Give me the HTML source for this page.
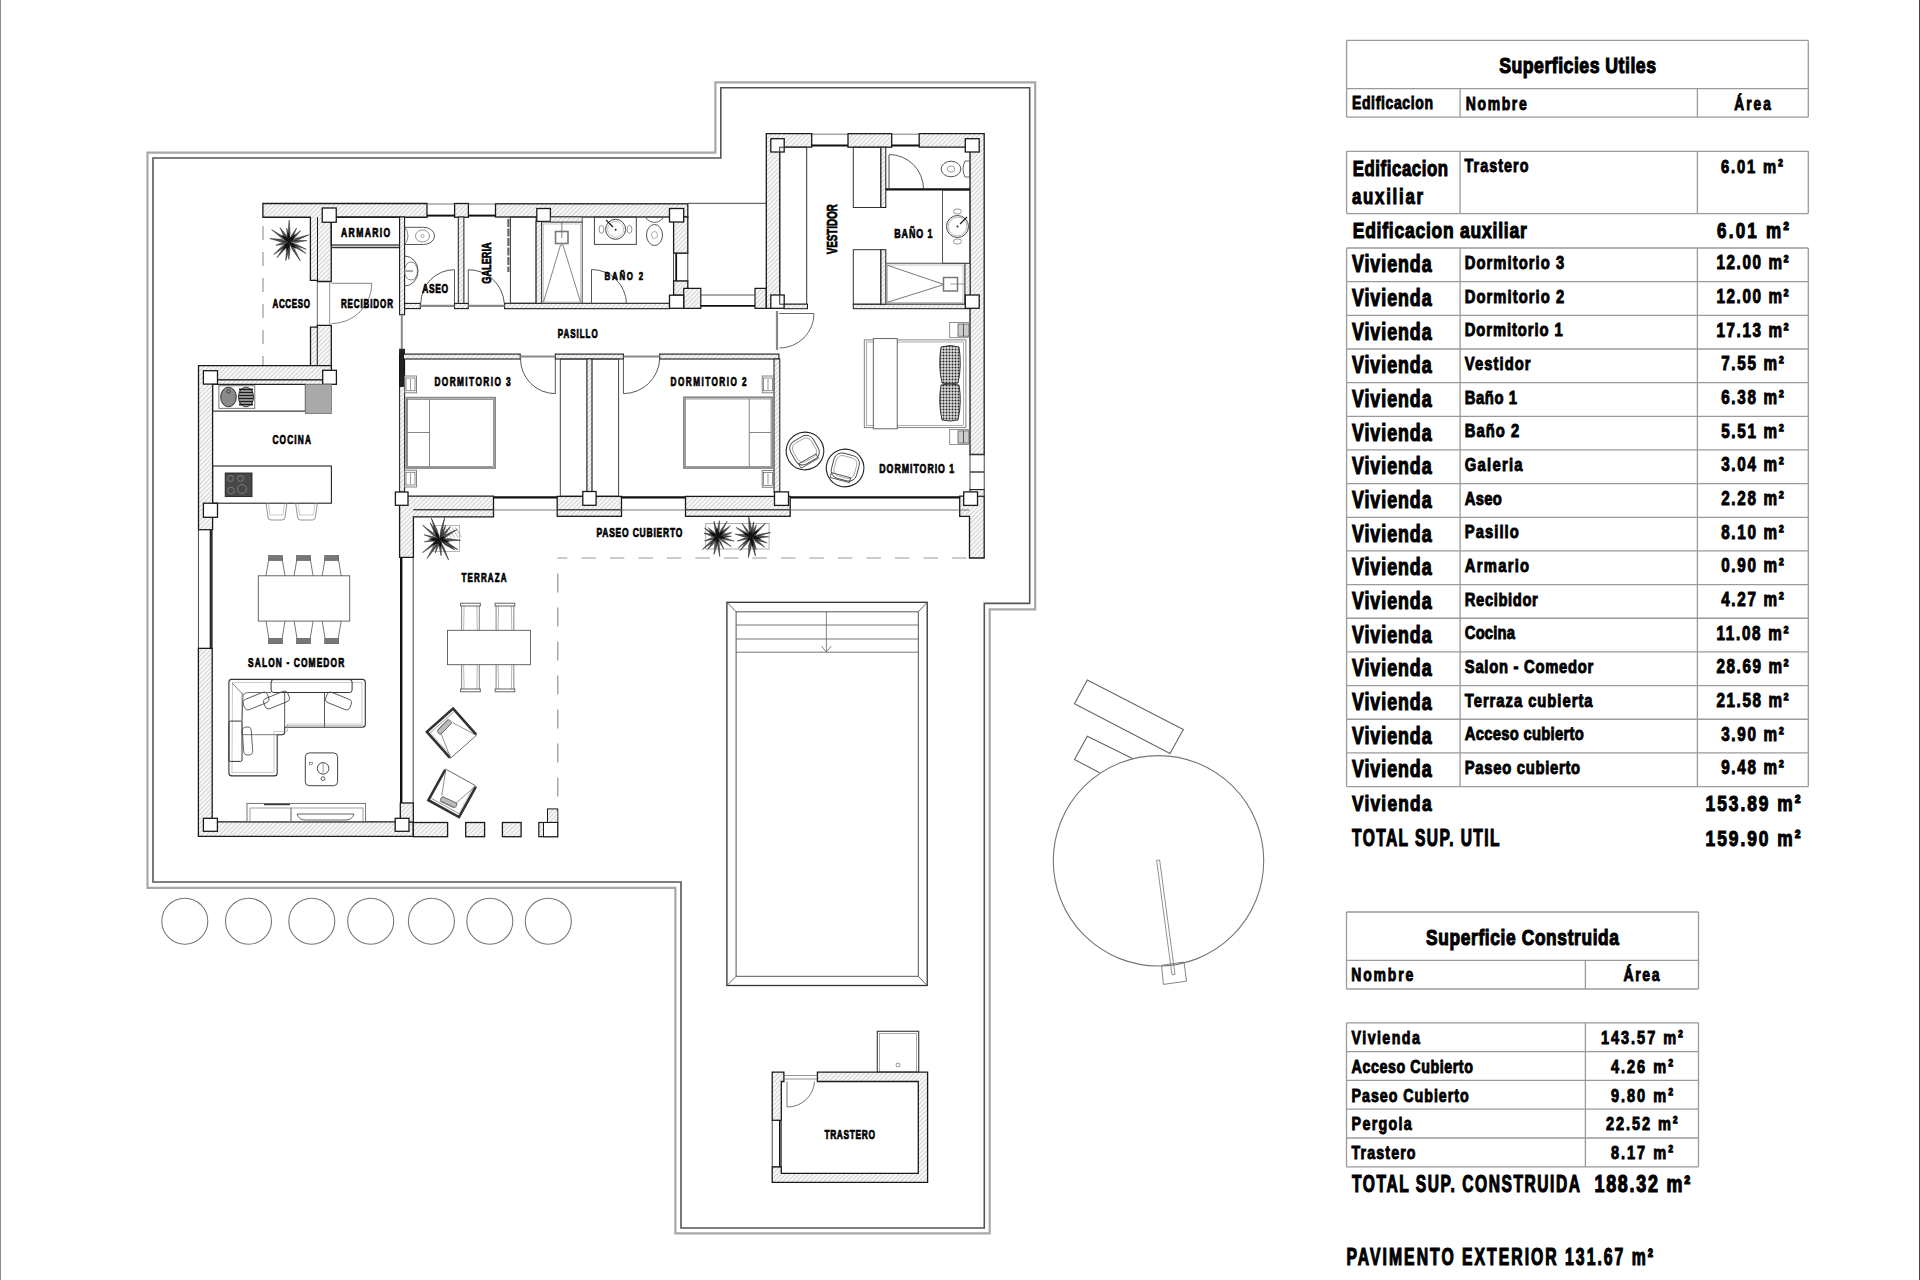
<!DOCTYPE html>
<html><head><meta charset="utf-8"><style>
html,body{margin:0;padding:0;background:#fff;width:1920px;height:1280px;overflow:hidden}
svg{display:block;font-family:"Liberation Sans",sans-serif;font-weight:bold}
</style></head><body>
<svg width="1920" height="1280" viewBox="0 0 1920 1280">
<defs><pattern id="h" patternUnits="userSpaceOnUse" width="3.2" height="3.2" patternTransform="rotate(45)"><rect width="3.2" height="3.2" fill="#f6f6f6"/><line x1="0" y1="0" x2="0" y2="3.2" stroke="#9a9a9a" stroke-width="0.7"/></pattern></defs>
<rect x="0" y="0" width="1920" height="1280" fill="#fff"/>
<line x1="0.5" y1="0" x2="0.5" y2="1280" stroke="#8a8a8a" stroke-width="1"/>
<line x1="1919.5" y1="0" x2="1919.5" y2="1280" stroke="#444" stroke-width="1"/>
<polygon points="147.5,152.6 715.4,152.6 715.4,82.3 1035.2,82.3 1035.2,609.4 989.7,609.4 989.7,1233.3 675.4,1233.3 675.4,887.8 147.5,887.8" fill="none" stroke="#a8a8a8" stroke-width="2.2" stroke-linejoin="miter"/>
<polygon points="153,158 720.8,158 720.8,87.8 1029.7,87.8 1029.7,603.4 984.3,603.4 984.3,1228 681,1228 681,882 153,882" fill="none" stroke="#555" stroke-width="1.6" stroke-linejoin="miter"/>
<circle cx="184.8" cy="921.2" r="23" fill="none" stroke="#777" stroke-width="1.1"/>
<circle cx="248.5" cy="921.2" r="23" fill="none" stroke="#777" stroke-width="1.1"/>
<circle cx="311.8" cy="921.2" r="23" fill="none" stroke="#777" stroke-width="1.1"/>
<circle cx="370.7" cy="921.2" r="23" fill="none" stroke="#777" stroke-width="1.1"/>
<circle cx="431.4" cy="921.2" r="23" fill="none" stroke="#777" stroke-width="1.1"/>
<circle cx="489.8" cy="921.2" r="23" fill="none" stroke="#777" stroke-width="1.1"/>
<circle cx="548.3" cy="921.2" r="23" fill="none" stroke="#777" stroke-width="1.1"/>
<rect x="726.9" y="602.3" width="200.3" height="383.2" fill="none" stroke="#333" stroke-width="1.3"/>
<rect x="736.1" y="611.8" width="182.2" height="364.5" fill="none" stroke="#555" stroke-width="1"/>
<line x1="726.9" y1="602.3" x2="736.1" y2="611.8" stroke="#555" stroke-width="0.9"/>
<line x1="927.2" y1="602.3" x2="918.3" y2="611.8" stroke="#555" stroke-width="0.9"/>
<line x1="726.9" y1="985.5" x2="736.1" y2="976.3" stroke="#555" stroke-width="0.9"/>
<line x1="927.2" y1="985.5" x2="918.3" y2="976.3" stroke="#555" stroke-width="0.9"/>
<line x1="736.1" y1="625" x2="918.3" y2="625" stroke="#666" stroke-width="0.9"/>
<line x1="736.1" y1="639" x2="918.3" y2="639" stroke="#666" stroke-width="0.9"/>
<line x1="736.1" y1="652.2" x2="918.3" y2="652.2" stroke="#666" stroke-width="0.9"/>
<line x1="826.4" y1="612" x2="826.4" y2="652" stroke="#666" stroke-width="0.8"/>
<path d="M821.5,646 L826.4,652 L831.3,646" fill="none" stroke="#666" stroke-width="0.8"/>
<polygon points="1087.3,680 1183.3,729.5 1170,753.4 1074.5,703.8" fill="none" stroke="#666" stroke-width="1.1" stroke-linejoin="miter"/>
<polyline points="1133,758.8 1087.3,736.2 1074.5,759.5 1099.7,772.8" fill="none" stroke="#666" stroke-width="1.1" stroke-linejoin="miter"/>
<circle cx="1158.5" cy="860.8" r="105.2" fill="none" stroke="#777" stroke-width="1.1"/>
<polygon points="1156.6,860.4 1159.6,860 1175,974.4 1172,974.8" fill="none" stroke="#777" stroke-width="0.8" stroke-linejoin="miter"/>
<polygon points="1161.6,965.3 1184,962 1186.5,981.2 1163.4,984.4" fill="none" stroke="#777" stroke-width="0.9" stroke-linejoin="miter"/>
<rect x="877.3" y="1031.3" width="41.4" height="40.9" fill="none" stroke="#444" stroke-width="1.2"/>
<rect x="879.6" y="1033.5" width="36.9" height="38.7" fill="none" stroke="#888" stroke-width="0.7"/>
<circle cx="898" cy="1065" r="2" fill="none" stroke="#666" stroke-width="0.7"/>
<path d="M772.2,1072.2 H783.9 V1081.5 H781.3 V1120.3 H772.2 Z" fill="url(#h)" stroke="#1a1a1a" stroke-width="1.3"/>
<path d="M817.4,1072.2 H927.6 V1182.3 H772.2 V1166.8 H781.3 V1173.4 H918.3 V1081.5 H817.4 Z" fill="url(#h)" stroke="#1a1a1a" stroke-width="1.3"/>
<rect x="772.2" y="1120.3" width="9.1" height="46.5" fill="none" stroke="#333" stroke-width="0.9"/>
<line x1="779.8" y1="1120.3" x2="779.8" y2="1166.8" stroke="#111" stroke-width="1.6"/>
<line x1="783.9" y1="1075.5" x2="817.4" y2="1075.5" stroke="#666" stroke-width="0.7"/>
<line x1="783.9" y1="1079" x2="817.4" y2="1079" stroke="#666" stroke-width="0.7"/>
<line x1="787" y1="1081.5" x2="787" y2="1107" stroke="#555" stroke-width="0.8"/>
<path d="M787,1107 A 27 27 0 0 0 814.5,1081.5" fill="none" stroke="#555" stroke-width="0.8"/>
<text transform="translate(824.4,1138.9) scale(0.67,1)" font-size="12.5" textLength="75.37" lengthAdjust="spacing" fill="#000" stroke="#000" stroke-width="0.75">TRASTERO</text>
<path d="M262.9,203.5 H427 V217.25 H331.25 V281.5 H317.5 V280.4 H310.4 V217.25 H262.9 Z" fill="url(#h)" stroke="#1a1a1a" stroke-width="1.3"/>
<line x1="317.5" y1="217.25" x2="317.5" y2="280.4" stroke="#1a1a1a" stroke-width="1"/>
<rect x="454.6" y="203.5" width="13.8" height="13.75" fill="url(#h)" stroke="#1a1a1a" stroke-width="1.3"/>
<rect x="495.5" y="203.8" width="192.3" height="13.2" fill="url(#h)" stroke="#1a1a1a" stroke-width="1.3"/>
<line x1="427" y1="204" x2="454.6" y2="204" stroke="#555" stroke-width="0.8"/>
<line x1="427" y1="215.6" x2="454.6" y2="215.6" stroke="#111" stroke-width="2"/>
<line x1="468.4" y1="204" x2="495.5" y2="204" stroke="#555" stroke-width="0.8"/>
<line x1="468.4" y1="215.6" x2="495.5" y2="215.6" stroke="#111" stroke-width="2"/>
<path d="M310.5,327.2 H317.3 V325.3 H331.3 V365.6 H310.5 Z" fill="url(#h)" stroke="#1a1a1a" stroke-width="1.3"/>
<line x1="317.3" y1="325.3" x2="317.3" y2="365.6" stroke="#1a1a1a" stroke-width="1"/>
<line x1="317.3" y1="281.5" x2="317.3" y2="325.3" stroke="#444" stroke-width="0.8"/>
<line x1="329.7" y1="281.5" x2="329.7" y2="325.3" stroke="#777" stroke-width="0.8"/>
<line x1="331.5" y1="283.3" x2="371.8" y2="283.3" stroke="#666" stroke-width="0.8"/>
<path d="M371.8,283.3 A 40.3 40.3 0 0 1 331.5,323.6" fill="none" stroke="#666" stroke-width="0.8"/>
<line x1="263" y1="217" x2="263" y2="365.6" stroke="#999" stroke-width="1.2" stroke-dasharray="14,12" stroke-dashoffset="-9"/>
<rect x="331.25" y="217" width="68.35" height="28" fill="none" stroke="#222" stroke-width="1.2"/>
<line x1="331.25" y1="247.5" x2="399.6" y2="247.5" stroke="#333" stroke-width="1.6"/>
<rect x="399.6" y="217" width="5" height="97.7" fill="url(#h)" stroke="#1a1a1a" stroke-width="1.1"/>
<line x1="401.8" y1="314.7" x2="401.8" y2="349" stroke="#888" stroke-width="2"/>
<rect x="404.6" y="303.4" width="15.7" height="5.2" fill="url(#h)" stroke="#1a1a1a" stroke-width="1.1"/>
<rect x="454.5" y="303.4" width="13.8" height="5.2" fill="url(#h)" stroke="#1a1a1a" stroke-width="1.1"/>
<rect x="504.6" y="303.3" width="164.9" height="5.4" fill="url(#h)" stroke="#1a1a1a" stroke-width="1.1"/>
<line x1="420.3" y1="305.8" x2="454.5" y2="305.8" stroke="#888" stroke-width="2.2"/>
<line x1="468.3" y1="305.8" x2="504.6" y2="305.8" stroke="#888" stroke-width="2.2"/>
<rect x="458.3" y="217" width="5.6" height="86.4" fill="url(#h)" stroke="#1a1a1a" stroke-width="1"/>
<rect x="510.4" y="217" width="25.7" height="86.3" fill="none" stroke="#333" stroke-width="1"/>
<line x1="508.4" y1="219" x2="508.4" y2="272" stroke="#666" stroke-width="2.2" stroke-dasharray="8,1.5"/>
<rect x="536.1" y="221.4" width="5.5" height="81.9" fill="url(#h)" stroke="#1a1a1a" stroke-width="1"/>
<rect x="673.6" y="217" width="14.2" height="36.2" fill="url(#h)" stroke="#1a1a1a" stroke-width="1.3"/>
<rect x="673.6" y="253.2" width="14.2" height="27.8" fill="none" stroke="#333" stroke-width="0.9"/>
<line x1="676.2" y1="253.2" x2="676.2" y2="281" stroke="#111" stroke-width="1.8"/>
<rect x="673.6" y="281" width="14.2" height="14.2" fill="url(#h)" stroke="#1a1a1a" stroke-width="1.3"/>
<path d="M683.7,288.3 H700.8 V308.3 H683.7 Z" fill="url(#h)" stroke="#1a1a1a" stroke-width="1.2"/>
<path d="M755,288.3 H766.3 V308.3 H755 Z" fill="url(#h)" stroke="#1a1a1a" stroke-width="1.2"/>
<line x1="687.8" y1="203.3" x2="766.3" y2="203.3" stroke="#444" stroke-width="1"/>
<line x1="700.8" y1="295" x2="755" y2="295" stroke="#444" stroke-width="0.9"/>
<line x1="700.8" y1="305.8" x2="755" y2="305.8" stroke="#111" stroke-width="1.8"/>
<rect x="669.5" y="295.2" width="14.2" height="13.1" fill="#fff" stroke="#1a1a1a" stroke-width="1.3"/>
<rect x="322.25" y="208" width="14" height="14.25" fill="#fff" stroke="#1a1a1a" stroke-width="1.3"/>
<rect x="536.8" y="208.5" width="13.6" height="12.9" fill="#fff" stroke="#1a1a1a" stroke-width="1.3"/>
<rect x="669.5" y="208.5" width="14.2" height="13.5" fill="#fff" stroke="#1a1a1a" stroke-width="1.3"/>
<path d="M766.3,133.7 H811.7 V147.2 H779.7 V308.3 H766.3 Z" fill="url(#h)" stroke="#1a1a1a" stroke-width="1.3"/>
<rect x="848" y="133.7" width="43.7" height="13.5" fill="url(#h)" stroke="#1a1a1a" stroke-width="1.3"/>
<path d="M919.2,133.7 H984.2 V454.5 H970 V147.2 H919.2 Z" fill="url(#h)" stroke="#1a1a1a" stroke-width="1.3"/>
<line x1="811.7" y1="134.2" x2="848" y2="134.2" stroke="#555" stroke-width="0.8"/>
<line x1="811.7" y1="145.5" x2="848" y2="145.5" stroke="#111" stroke-width="2"/>
<line x1="891.7" y1="134.2" x2="919.2" y2="134.2" stroke="#555" stroke-width="0.8"/>
<line x1="891.7" y1="145.5" x2="919.2" y2="145.5" stroke="#111" stroke-width="2"/>
<rect x="970" y="454.5" width="14.2" height="35.1" fill="none" stroke="#333" stroke-width="0.9"/>
<line x1="970" y1="472" x2="984.2" y2="472" stroke="#333" stroke-width="1.4"/>
<rect x="770.8" y="138.7" width="13.4" height="13.3" fill="#fff" stroke="#1a1a1a" stroke-width="1.3"/>
<rect x="965.3" y="138.7" width="13.9" height="13.3" fill="#fff" stroke="#1a1a1a" stroke-width="1.3"/>
<rect x="770.8" y="295" width="13.4" height="13.3" fill="#fff" stroke="#1a1a1a" stroke-width="1.3"/>
<rect x="779.7" y="147.2" width="27" height="157" fill="none" stroke="#333" stroke-width="1"/>
<rect x="784.2" y="304.2" width="23.3" height="4.5" fill="url(#h)" stroke="#1a1a1a" stroke-width="1"/>
<rect x="853.3" y="304.2" width="116.7" height="4.5" fill="url(#h)" stroke="#1a1a1a" stroke-width="1"/>
<rect x="880.8" y="147.2" width="5" height="60.3" fill="url(#h)" stroke="#1a1a1a" stroke-width="1"/>
<rect x="880.8" y="249.7" width="5" height="54.5" fill="url(#h)" stroke="#1a1a1a" stroke-width="1"/>
<rect x="853.3" y="147.2" width="27.5" height="60.3" fill="none" stroke="#333" stroke-width="1"/>
<rect x="853.3" y="249.7" width="27.5" height="54.5" fill="none" stroke="#333" stroke-width="1"/>
<line x1="885.8" y1="189.3" x2="970" y2="189.3" stroke="#111" stroke-width="2.2"/>
<line x1="889" y1="155" x2="889" y2="189.3" stroke="#444" stroke-width="1"/>
<path d="M889,154.5 A 34.5 34.5 0 0 1 923.5,189" fill="none" stroke="#444" stroke-width="0.9"/>
<rect x="885.8" y="263.3" width="79.2" height="40.9" fill="none" stroke="#666" stroke-width="1.1"/>
<rect x="887.5" y="265" width="75.5" height="37.5" fill="none" stroke="#999" stroke-width="0.6"/>
<polyline points="887.5,265.3 944,284.5 887.5,302.3" fill="none" stroke="#555" stroke-width="0.8" stroke-linejoin="miter"/>
<rect x="943.5" y="277.5" width="14" height="13.5" fill="none" stroke="#777" stroke-width="1.5"/>
<line x1="950.5" y1="284" x2="964" y2="284" stroke="#777" stroke-width="0.7"/>
<rect x="965" y="263.3" width="5" height="40.9" fill="url(#h)" stroke="#1a1a1a" stroke-width="0.8"/>
<rect x="942.5" y="190.3" width="27.5" height="73" fill="none" stroke="#444" stroke-width="0.9"/>
<circle cx="957.5" cy="226.5" r="11" fill="none" stroke="#444" stroke-width="1"/>
<circle cx="957.5" cy="226.5" r="9.3" fill="none" stroke="#888" stroke-width="0.6"/>
<circle cx="957.5" cy="226.5" r="1" fill="#222"/>
<line x1="960" y1="224" x2="967" y2="217" stroke="#222" stroke-width="1.2"/>
<ellipse cx="957.5" cy="211.5" rx="4" ry="2.6" fill="none" stroke="#777" stroke-width="0.8"/>
<ellipse cx="957.5" cy="241.5" rx="4" ry="2.6" fill="none" stroke="#777" stroke-width="0.8"/>
<ellipse cx="951" cy="169" rx="9.8" ry="7.8" fill="none" stroke="#555" stroke-width="1"/>
<ellipse cx="951" cy="169" rx="3.8" ry="3" fill="none" stroke="#777" stroke-width="0.7"/>
<path d="M965,161 Q961,169 965,177 H970 V161 Z" fill="none" stroke="#555" stroke-width="0.9"/>
<rect x="541.6" y="222" width="40.6" height="81.3" fill="none" stroke="#444" stroke-width="1"/>
<rect x="543.5" y="224" width="37" height="78" fill="none" stroke="#aaa" stroke-width="0.6"/>
<rect x="555.5" y="231.5" width="12.5" height="12" fill="none" stroke="#777" stroke-width="1.6"/>
<line x1="561.8" y1="222" x2="561.8" y2="238" stroke="#666" stroke-width="0.8"/>
<polyline points="543.5,302 560.5,245 563,245 580.5,302" fill="none" stroke="#666" stroke-width="0.8" stroke-linejoin="miter"/>
<rect x="550.4" y="217" width="31.8" height="5" fill="url(#h)" stroke="#444" stroke-width="0.9"/>
<rect x="594.4" y="217" width="41.9" height="27.4" fill="none" stroke="#444" stroke-width="1"/>
<circle cx="615.6" cy="229.3" r="10" fill="none" stroke="#444" stroke-width="1"/>
<circle cx="615.6" cy="229.3" r="8" fill="none" stroke="#999" stroke-width="0.6"/>
<circle cx="615.6" cy="229.8" r="1" fill="#222"/>
<line x1="606" y1="220" x2="613" y2="227" stroke="#222" stroke-width="1.2"/>
<ellipse cx="601.5" cy="229.3" rx="2.4" ry="4" fill="none" stroke="#777" stroke-width="0.8"/>
<ellipse cx="629.5" cy="229.3" rx="2.4" ry="4" fill="none" stroke="#777" stroke-width="0.8"/>
<ellipse cx="654.5" cy="235" rx="8" ry="10.5" fill="none" stroke="#555" stroke-width="1"/>
<ellipse cx="654.5" cy="235" rx="3" ry="3.5" fill="none" stroke="#888" stroke-width="0.7"/>
<path d="M646.5,219 Q654.5,226 662.5,219 V217 H646.5 Z" fill="none" stroke="#555" stroke-width="0.9"/>
<line x1="591.5" y1="269.5" x2="591.5" y2="303.3" stroke="#444" stroke-width="0.9"/>
<path d="M591.5,269.5 A 35 35 0 0 1 626.5,303.3" fill="none" stroke="#444" stroke-width="0.9"/>
<path d="M404.6,227.3 H423.5 A 11 8.6 0 1 1 423.5,244.5 H404.6" fill="none" stroke="#555" stroke-width="1"/>
<ellipse cx="422.5" cy="236" rx="7" ry="6" fill="none" stroke="#777" stroke-width="0.8"/>
<circle cx="422.5" cy="236" r="1.6" fill="none" stroke="#777" stroke-width="0.6"/>
<path d="M405,227.5 Q411,236 405,244.3" fill="none" stroke="#666" stroke-width="0.8"/>
<path d="M404.6,256 A 13.5 15 0 1 1 404.6,286" fill="none" stroke="#555" stroke-width="1"/>
<ellipse cx="411" cy="271" rx="6.5" ry="9" fill="none" stroke="#666" stroke-width="0.8"/>
<line x1="405.5" y1="271" x2="413" y2="271" stroke="#444" stroke-width="0.9"/>
<line x1="454.5" y1="269.7" x2="454.5" y2="303.4" stroke="#444" stroke-width="0.9"/>
<path d="M454.5,269.7 A 33.7 33.7 0 0 0 420.8,303.4" fill="none" stroke="#444" stroke-width="0.9"/>
<line x1="468.3" y1="269.7" x2="468.3" y2="303.4" stroke="#444" stroke-width="0.9"/>
<path d="M468.3,269.7 A 36 36 0 0 1 504.3,303.4" fill="none" stroke="#444" stroke-width="0.9"/>
<rect x="399.6" y="354" width="5" height="138" fill="url(#h)" stroke="#1a1a1a" stroke-width="1"/>
<rect x="399.6" y="349.2" width="5" height="37.3" fill="#222" stroke="#111" stroke-width="0.8"/>
<rect x="403.4" y="354.1" width="116.8" height="4.9" fill="url(#h)" stroke="#1a1a1a" stroke-width="1.1"/>
<rect x="555.3" y="354.1" width="68.1" height="4.9" fill="url(#h)" stroke="#1a1a1a" stroke-width="1.1"/>
<rect x="659.7" y="354.1" width="119.2" height="4.9" fill="url(#h)" stroke="#1a1a1a" stroke-width="1.1"/>
<line x1="520.2" y1="356.5" x2="555.3" y2="356.5" stroke="#888" stroke-width="2.2"/>
<line x1="623.4" y1="356.5" x2="659.7" y2="356.5" stroke="#888" stroke-width="2.2"/>
<rect x="774" y="359" width="5.8" height="133" fill="url(#h)" stroke="#1a1a1a" stroke-width="1"/>
<line x1="777" y1="311" x2="777" y2="350" stroke="#888" stroke-width="2.2"/>
<line x1="779.3" y1="313.5" x2="814" y2="313.5" stroke="#555" stroke-width="0.9"/>
<path d="M814,313.5 A 34.5 34.5 0 0 1 779.5,348" fill="none" stroke="#555" stroke-width="0.9"/>
<line x1="555.3" y1="359" x2="555.3" y2="393.6" stroke="#444" stroke-width="0.9"/>
<path d="M520.5,359 A 34.8 34.8 0 0 0 555.3,393.6" fill="none" stroke="#444" stroke-width="0.9"/>
<line x1="623.4" y1="359" x2="623.4" y2="393.6" stroke="#444" stroke-width="0.9"/>
<path d="M659.7,359 A 36.3 36.3 0 0 1 623.4,393.6" fill="none" stroke="#444" stroke-width="0.9"/>
<rect x="560.3" y="359" width="26.7" height="137.2" fill="none" stroke="#444" stroke-width="1"/>
<rect x="591.9" y="359" width="26.7" height="137.2" fill="none" stroke="#444" stroke-width="1"/>
<rect x="587" y="359" width="4.9" height="133" fill="url(#h)" stroke="#1a1a1a" stroke-width="0.9"/>
<path d="M198.5,365.7 H331.4 V380 H212.6 V529.7 H198.5 Z" fill="url(#h)" stroke="#1a1a1a" stroke-width="1.3"/>
<rect x="212.6" y="380" width="110.1" height="4.4" fill="url(#h)" stroke="#1a1a1a" stroke-width="1"/>
<rect x="198.4" y="529.7" width="13.8" height="118.7" fill="none" stroke="#333" stroke-width="0.9"/>
<line x1="210.8" y1="529.7" x2="210.8" y2="648.4" stroke="#222" stroke-width="2.2"/>
<path d="M198.4,648.4 H212.2 V821.9 H413.3 V836.4 H198.4 Z" fill="url(#h)" stroke="#1a1a1a" stroke-width="1.3"/>
<line x1="401.2" y1="557.3" x2="401.2" y2="803" stroke="#111" stroke-width="2.4"/>
<line x1="413.2" y1="557.3" x2="413.2" y2="803" stroke="#444" stroke-width="1"/>
<rect x="400.3" y="803" width="13" height="19" fill="url(#h)" stroke="#1a1a1a" stroke-width="1.3"/>
<path d="M399.6,496.2 H493.5 V516.9 H413.4 V557.3 H399.6 Z" fill="url(#h)" stroke="#1a1a1a" stroke-width="1.3"/>
<line x1="413.4" y1="509.6" x2="493.5" y2="509.6" stroke="#1a1a1a" stroke-width="1"/>
<rect x="557.2" y="496.4" width="64.3" height="19.9" fill="url(#h)" stroke="#1a1a1a" stroke-width="1.3"/>
<line x1="557.2" y1="509.7" x2="621.5" y2="509.7" stroke="#1a1a1a" stroke-width="1"/>
<rect x="685.5" y="496.4" width="104.7" height="19.9" fill="url(#h)" stroke="#1a1a1a" stroke-width="1.3"/>
<line x1="685.5" y1="509.7" x2="790.2" y2="509.7" stroke="#1a1a1a" stroke-width="1"/>
<path d="M959.7,496.2 H984.2 V558 H969.5 V516.3 H959.7 Z" fill="url(#h)" stroke="#1a1a1a" stroke-width="1.3"/>
<rect x="970" y="489.6" width="14.2" height="6.6" fill="url(#h)" stroke="#1a1a1a" stroke-width="1"/>
<line x1="493.5" y1="497.4" x2="557.2" y2="497.4" stroke="#111" stroke-width="2.2"/>
<line x1="621.5" y1="497.4" x2="685.5" y2="497.4" stroke="#111" stroke-width="2.2"/>
<line x1="790.2" y1="497.4" x2="959.7" y2="497.4" stroke="#111" stroke-width="2.2"/>
<line x1="413.4" y1="510" x2="969.5" y2="510" stroke="#555" stroke-width="0.8"/>
<rect x="395.4" y="492" width="12.6" height="13.3" fill="#fff" stroke="#1a1a1a" stroke-width="1.3"/>
<rect x="582.8" y="491.5" width="13.3" height="13.8" fill="#fff" stroke="#1a1a1a" stroke-width="1.3"/>
<rect x="774.5" y="491.9" width="14" height="13.5" fill="#fff" stroke="#1a1a1a" stroke-width="1.3"/>
<rect x="963.7" y="491.9" width="13.8" height="13.5" fill="#fff" stroke="#1a1a1a" stroke-width="1.3"/>
<rect x="203.4" y="370.7" width="14.1" height="13.4" fill="#fff" stroke="#1a1a1a" stroke-width="1.3"/>
<rect x="322.7" y="370.3" width="13.7" height="14" fill="#fff" stroke="#1a1a1a" stroke-width="1.3"/>
<rect x="203.4" y="503.2" width="14.1" height="14.1" fill="#fff" stroke="#1a1a1a" stroke-width="1.3"/>
<rect x="203.4" y="818.3" width="14" height="13" fill="#fff" stroke="#1a1a1a" stroke-width="1.3"/>
<rect x="395.2" y="818.3" width="13.8" height="13" fill="#fff" stroke="#1a1a1a" stroke-width="1.3"/>
<rect x="965.3" y="295" width="13.9" height="13.3" fill="#fff" stroke="#1a1a1a" stroke-width="1.3"/>
<rect x="413.3" y="822.5" width="34.3" height="14.2" fill="url(#h)" stroke="#1a1a1a" stroke-width="1.3"/>
<rect x="465.7" y="822.5" width="18.9" height="14.2" fill="url(#h)" stroke="#1a1a1a" stroke-width="1.3"/>
<rect x="502.4" y="822.5" width="18.7" height="14.2" fill="url(#h)" stroke="#1a1a1a" stroke-width="1.3"/>
<rect x="547.5" y="808.9" width="10.2" height="13.6" fill="url(#h)" stroke="#1a1a1a" stroke-width="1"/>
<rect x="538.8" y="822.5" width="18.9" height="14.2" fill="url(#h)" stroke="#1a1a1a" stroke-width="1.2"/>
<rect x="543.5" y="822.5" width="14.2" height="14.2" fill="#fff" stroke="#1a1a1a" stroke-width="1"/>
<line x1="557.8" y1="558" x2="557.8" y2="822" stroke="#888" stroke-width="1.1" stroke-dasharray="19,15" stroke-dashoffset="18.4"/>
<line x1="557.8" y1="558" x2="970" y2="558" stroke="#999" stroke-width="1.2" stroke-dasharray="14.5,14" stroke-dashoffset="4.9"/>
<rect x="212.6" y="384.4" width="92.8" height="26.7" fill="none" stroke="#222" stroke-width="1.1"/>
<rect x="218.9" y="385.8" width="35.9" height="22.5" fill="none" stroke="#555" stroke-width="0.8"/>
<ellipse cx="228.5" cy="397" rx="7.8" ry="9.8" fill="#8a8a8a" stroke="#222" stroke-width="0.9"/>
<circle cx="228.5" cy="391.5" r="1.8" fill="none" stroke="#222" stroke-width="0.6"/>
<ellipse cx="246" cy="397" rx="7.6" ry="9.8" fill="#eee" stroke="#222" stroke-width="0.9"/>
<line x1="239" y1="389.5" x2="253" y2="389.5" stroke="#1a1a1a" stroke-width="1.9"/>
<line x1="239" y1="392.5" x2="253" y2="392.5" stroke="#1a1a1a" stroke-width="1.9"/>
<line x1="239" y1="395.5" x2="253" y2="395.5" stroke="#1a1a1a" stroke-width="1.9"/>
<line x1="239" y1="398.5" x2="253" y2="398.5" stroke="#1a1a1a" stroke-width="1.9"/>
<line x1="239" y1="401.5" x2="253" y2="401.5" stroke="#1a1a1a" stroke-width="1.9"/>
<line x1="239" y1="404.5" x2="253" y2="404.5" stroke="#1a1a1a" stroke-width="1.9"/>
<rect x="305.4" y="384.4" width="26" height="29.1" fill="#a9a9a9" stroke="#777" stroke-width="0.9"/>
<rect x="212.6" y="466" width="118.8" height="37.2" fill="none" stroke="#222" stroke-width="1.1"/>
<rect x="225.2" y="473" width="26.8" height="23.6" fill="#484848" stroke="#222" stroke-width="0.9"/>
<circle cx="230.5" cy="478.5" r="3" fill="none" stroke="#888" stroke-width="0.8"/>
<circle cx="240.5" cy="478.5" r="3" fill="none" stroke="#888" stroke-width="0.8"/>
<circle cx="231" cy="490.5" r="3.3" fill="none" stroke="#888" stroke-width="0.8"/>
<circle cx="242" cy="489" r="4.5" fill="none" stroke="#888" stroke-width="0.8"/>
<path d="M266,503.2 L268,517 Q268,520 271,520 H282 Q285,520 285,517 L287,503.2" fill="none" stroke="#888" stroke-width="0.9"/>
<path d="M268.5,503.2 L270,515 H283 L284.5,503.2" fill="none" stroke="#aaa" stroke-width="0.6"/>
<path d="M295.6,503.2 L297.6,517 Q297.6,520 300.6,520 H312.4 Q315.4,520 315.4,517 L317.4,503.2" fill="none" stroke="#888" stroke-width="0.9"/>
<path d="M298.1,503.2 L299.6,515 H313.4 L314.9,503.2" fill="none" stroke="#aaa" stroke-width="0.6"/>
<rect x="258.3" y="575.8" width="91.4" height="45.3" fill="none" stroke="#555" stroke-width="0.9"/>
<path d="M266,575.8 L269,558 H282 L285,575.8" fill="none" stroke="#555" stroke-width="0.8"/>
<rect x="268.5" y="555.5" width="14" height="5" fill="#777" stroke="#555" stroke-width="0.6"/>
<path d="M266,621.1 L269,639 H282 L285,621.1" fill="none" stroke="#555" stroke-width="0.8"/>
<rect x="268.5" y="638.7" width="14" height="5" fill="#777" stroke="#555" stroke-width="0.6"/>
<path d="M294.1,575.8 L297.1,558 H310.1 L313.1,575.8" fill="none" stroke="#555" stroke-width="0.8"/>
<rect x="296.6" y="555.5" width="14" height="5" fill="#777" stroke="#555" stroke-width="0.6"/>
<path d="M294.1,621.1 L297.1,639 H310.1 L313.1,621.1" fill="none" stroke="#555" stroke-width="0.8"/>
<rect x="296.6" y="638.7" width="14" height="5" fill="#777" stroke="#555" stroke-width="0.6"/>
<path d="M322.2,575.8 L325.2,558 H338.2 L341.2,575.8" fill="none" stroke="#555" stroke-width="0.8"/>
<rect x="324.7" y="555.5" width="14" height="5" fill="#777" stroke="#555" stroke-width="0.6"/>
<path d="M322.2,621.1 L325.2,639 H338.2 L341.2,621.1" fill="none" stroke="#555" stroke-width="0.8"/>
<rect x="324.7" y="638.7" width="14" height="5" fill="#777" stroke="#555" stroke-width="0.6"/>
<path d="M231.5,679.4 H362.3 Q365.3,679.4 365.3,682.4 V724.2 Q365.3,727.2 362.3,727.2 H284.7 V731.7 Q284.7,734.7 281.7,734.7 H277.2 V772.9 Q277.2,775.9 274.2,775.9 H231.9 Q228.9,775.9 228.9,772.9 V682.4 Q228.9,679.4 231.5,679.4 Z" fill="none" stroke="#333" stroke-width="1.1"/>
<path d="M232.5,682.5 H362 V724 H287.5 V731.5 H274 V772.5 H232 Z" fill="none" stroke="#999" stroke-width="0.5"/>
<rect x="271.1" y="679.6" width="81" height="12.9" fill="none" stroke="#333" stroke-width="1" rx="2.5"/>
<rect x="228.9" y="721.1" width="13.1" height="40.3" fill="none" stroke="#333" stroke-width="1" rx="1.5"/>
<line x1="232" y1="683" x2="243.5" y2="695" stroke="#555" stroke-width="0.7"/>
<path d="M243.5,695 Q244,692.5 250,692.5 H271.1" fill="none" stroke="#444" stroke-width="0.8"/>
<line x1="243" y1="695" x2="242" y2="721.1" stroke="#444" stroke-width="0.8"/>
<path d="M242,734.7 H281.7" fill="none" stroke="#555" stroke-width="0.8"/>
<path d="M242,692.5 V734.7" fill="none" stroke="#555" stroke-width="0.6"/>
<line x1="284.7" y1="692.5" x2="284.7" y2="727.2" stroke="#444" stroke-width="0.9"/>
<line x1="324.5" y1="692.5" x2="324.5" y2="727.2" stroke="#444" stroke-width="0.9"/>
<line x1="286" y1="725.5" x2="363.5" y2="725.5" stroke="#888" stroke-width="0.5"/>
<g transform="translate(256,701) rotate(-22)"><rect x="-13" y="-5.5" width="26" height="11" rx="4" fill="none" stroke="#444" stroke-width="0.8"/></g>
<g transform="translate(276.5,700) rotate(-22)"><rect x="-13" y="-5.5" width="26" height="11" rx="4" fill="none" stroke="#444" stroke-width="0.8"/></g>
<g transform="translate(338.5,701) rotate(22)"><rect x="-13" y="-5.5" width="26" height="11" rx="4" fill="none" stroke="#444" stroke-width="0.8"/></g>
<g transform="translate(247.5,741) rotate(-4)"><rect x="-4.5" y="-14" width="9" height="28" rx="4" fill="none" stroke="#444" stroke-width="0.8"/></g>
<rect x="305.3" y="752.9" width="32.3" height="32.8" fill="none" stroke="#444" stroke-width="1" rx="4"/>
<circle cx="323.1" cy="768.4" r="5.8" fill="none" stroke="#333" stroke-width="0.9"/>
<line x1="323.1" y1="763" x2="323.1" y2="773" stroke="#555" stroke-width="0.6"/>
<circle cx="323" cy="778.6" r="1.9" fill="none" stroke="#333" stroke-width="0.8"/>
<rect x="309.5" y="762.5" width="3" height="2" fill="none" stroke="#555" stroke-width="0.6"/>
<rect x="247" y="803.4" width="118.6" height="18.5" fill="none" stroke="#666" stroke-width="0.9"/>
<rect x="250" y="808" width="41" height="13.9" fill="none" stroke="#777" stroke-width="0.7"/>
<rect x="291" y="808" width="72" height="13.9" fill="none" stroke="#777" stroke-width="0.7"/>
<path d="M297,814 H354 Q352,820 346,820 H305 Q299,820 297,814 Z" fill="none" stroke="#555" stroke-width="0.9"/>
<line x1="264" y1="804.5" x2="290" y2="804.5" stroke="#333" stroke-width="1.4"/>
<rect x="406.3" y="397.7" width="88.8" height="70.3" fill="none" stroke="#888" stroke-width="1.8"/>
<rect x="407.5" y="399.5" width="86" height="67" fill="none" stroke="#555" stroke-width="0.6"/>
<line x1="429.5" y1="399" x2="429.5" y2="466.5" stroke="#777" stroke-width="0.9"/>
<line x1="407.5" y1="432.5" x2="429.5" y2="432.5" stroke="#777" stroke-width="0.9"/>
<rect x="404.6" y="376" width="11.9" height="16.8" fill="none" stroke="#777" stroke-width="0.9"/>
<rect x="406" y="378" width="9" height="12.8" fill="none" stroke="#444" stroke-width="0.6"/>
<line x1="410.5" y1="379" x2="410.5" y2="390" stroke="#555" stroke-width="0.6"/>
<rect x="404.6" y="470.2" width="11.9" height="16.8" fill="none" stroke="#777" stroke-width="0.9"/>
<rect x="406" y="472.2" width="9" height="12.8" fill="none" stroke="#444" stroke-width="0.6"/>
<line x1="410.5" y1="473.2" x2="410.5" y2="484.2" stroke="#555" stroke-width="0.6"/>
<rect x="683.9" y="397.3" width="88.6" height="70.7" fill="none" stroke="#888" stroke-width="1.8"/>
<rect x="685.3" y="399" width="85.7" height="67.5" fill="none" stroke="#555" stroke-width="0.6"/>
<line x1="749.3" y1="399" x2="749.3" y2="466.5" stroke="#777" stroke-width="0.9"/>
<line x1="749.3" y1="432.5" x2="771" y2="432.5" stroke="#777" stroke-width="0.9"/>
<rect x="762.2" y="376" width="11.8" height="16.8" fill="none" stroke="#777" stroke-width="0.9"/>
<rect x="763.5" y="378" width="9" height="12.8" fill="none" stroke="#444" stroke-width="0.6"/>
<line x1="768" y1="379" x2="768" y2="390" stroke="#555" stroke-width="0.6"/>
<rect x="762.2" y="470.5" width="11.8" height="16.8" fill="none" stroke="#777" stroke-width="0.9"/>
<rect x="763.5" y="472.5" width="9" height="12.8" fill="none" stroke="#444" stroke-width="0.6"/>
<line x1="768" y1="473.5" x2="768" y2="484.5" stroke="#555" stroke-width="0.6"/>
<rect x="864.3" y="339.9" width="101.6" height="87.7" fill="none" stroke="#777" stroke-width="0.9"/>
<rect x="866.5" y="342" width="97" height="83.5" fill="none" stroke="#777" stroke-width="0.6"/>
<rect x="873.3" y="338.6" width="23.9" height="90.2" fill="#fff" stroke="#555" stroke-width="0.9"/>
<defs><pattern id="pw" patternUnits="userSpaceOnUse" width="3" height="3"><rect width="3" height="3" fill="#ddd"/><circle cx="1.5" cy="1.5" r="1" fill="#222"/></pattern></defs>
<path d="M941,347 Q950,344 959,347 Q962,366 958,383 Q950,385 942,383 Q938,366 941,347 Z" fill="url(#pw)" stroke="#222" stroke-width="0.9"/>
<path d="M941,385 Q950,383 959,385 Q962,402 958,420 Q950,422 942,420 Q938,402 941,385 Z" fill="url(#pw)" stroke="#222" stroke-width="0.9"/>
<rect x="949.7" y="322.5" width="20.3" height="15.2" fill="none" stroke="#777" stroke-width="0.8"/>
<rect x="958" y="324" width="11" height="12.2" fill="#ccc" stroke="#444" stroke-width="0.7"/>
<line x1="963.5" y1="324" x2="963.5" y2="336.2" stroke="#222" stroke-width="0.7"/>
<rect x="949.7" y="429.4" width="20.3" height="15.2" fill="none" stroke="#777" stroke-width="0.8"/>
<rect x="958" y="430.9" width="11" height="12.2" fill="#ccc" stroke="#444" stroke-width="0.7"/>
<line x1="963.5" y1="430.9" x2="963.5" y2="443.1" stroke="#222" stroke-width="0.7"/>
<g transform="translate(805,451) rotate(-30)">
<circle cx="0" cy="0" r="18.8" fill="none" stroke="#222" stroke-width="1.1"/>
<rect x="-13" y="-14" width="26" height="26" rx="8" fill="none" stroke="#444" stroke-width="0.9"/>
<rect x="-10.5" y="-11.5" width="21" height="21" rx="6" fill="none" stroke="#777" stroke-width="0.6"/>
<rect x="-12" y="8" width="20" height="5" fill="none" stroke="#444" stroke-width="0.8"/>
</g>
<g transform="translate(845.1,468) rotate(15)">
<circle cx="0" cy="0" r="18.8" fill="none" stroke="#222" stroke-width="1.1"/>
<rect x="-13" y="-14" width="26" height="26" rx="8" fill="none" stroke="#444" stroke-width="0.9"/>
<rect x="-10.5" y="-11.5" width="21" height="21" rx="6" fill="none" stroke="#777" stroke-width="0.6"/>
<rect x="-12" y="8" width="20" height="5" fill="none" stroke="#444" stroke-width="0.8"/>
</g>
<rect x="447.5" y="630.3" width="82.9" height="34.4" fill="none" stroke="#555" stroke-width="0.9"/>
<line x1="461.6" y1="630.3" x2="461.6" y2="606" stroke="#666" stroke-width="0.8"/>
<line x1="479.3" y1="630.3" x2="479.3" y2="606" stroke="#666" stroke-width="0.8"/>
<line x1="463.6" y1="630.3" x2="464.1" y2="606" stroke="#888" stroke-width="0.6"/>
<line x1="477.3" y1="630.3" x2="476.8" y2="606" stroke="#888" stroke-width="0.6"/>
<rect x="460.6" y="603.2" width="19.7" height="2.8" fill="none" stroke="#555" stroke-width="0.9"/>
<line x1="461.6" y1="664.7" x2="461.6" y2="689" stroke="#666" stroke-width="0.8"/>
<line x1="479.3" y1="664.7" x2="479.3" y2="689" stroke="#666" stroke-width="0.8"/>
<line x1="463.6" y1="664.7" x2="464.1" y2="689" stroke="#888" stroke-width="0.6"/>
<line x1="477.3" y1="664.7" x2="476.8" y2="689" stroke="#888" stroke-width="0.6"/>
<rect x="460.6" y="689" width="19.7" height="2.8" fill="none" stroke="#555" stroke-width="0.9"/>
<line x1="496.1" y1="630.3" x2="496.1" y2="606" stroke="#666" stroke-width="0.8"/>
<line x1="513.8" y1="630.3" x2="513.8" y2="606" stroke="#666" stroke-width="0.8"/>
<line x1="498.1" y1="630.3" x2="498.6" y2="606" stroke="#888" stroke-width="0.6"/>
<line x1="511.8" y1="630.3" x2="511.3" y2="606" stroke="#888" stroke-width="0.6"/>
<rect x="495.1" y="603.2" width="19.7" height="2.8" fill="none" stroke="#555" stroke-width="0.9"/>
<line x1="496.1" y1="664.7" x2="496.1" y2="689" stroke="#666" stroke-width="0.8"/>
<line x1="513.8" y1="664.7" x2="513.8" y2="689" stroke="#666" stroke-width="0.8"/>
<line x1="498.1" y1="664.7" x2="498.6" y2="689" stroke="#888" stroke-width="0.6"/>
<line x1="511.8" y1="664.7" x2="511.3" y2="689" stroke="#888" stroke-width="0.6"/>
<rect x="495.1" y="689" width="19.7" height="2.8" fill="none" stroke="#555" stroke-width="0.9"/>
<g transform="translate(451.6,733.3) rotate(-41.5)">
<rect x="-18" y="-18" width="36" height="36" rx="1.5" fill="none" stroke="#555" stroke-width="0.8"/>
<path d="M-17.5,17 V-17.5 H17.5 V17" fill="none" stroke="#333" stroke-width="2.6"/>
<line x1="-15.5" y1="-14.5" x2="15.5" y2="-14.5" stroke="#777" stroke-width="0.7"/>
<line x1="-15.5" y1="-15.5" x2="-15.5" y2="17" stroke="#999" stroke-width="0.5"/>
<rect x="-9" y="-12" width="17" height="5" rx="1.5" fill="#bbb" stroke="#444" stroke-width="0.7" transform="rotate(-4)"/>
<line x1="-8" y1="-12" x2="7" y2="-13" stroke="#555" stroke-width="0.5"/>
<path d="M-8,-7 L-17,17.5 M8,-7 L17,17.5" fill="none" stroke="#555" stroke-width="0.6"/>
</g>
<g transform="translate(452.2,793.3) rotate(209)">
<rect x="-18" y="-18" width="36" height="36" rx="1.5" fill="none" stroke="#555" stroke-width="0.8"/>
<path d="M-17.5,17 V-17.5 H17.5 V17" fill="none" stroke="#333" stroke-width="2.6"/>
<line x1="-15.5" y1="-14.5" x2="15.5" y2="-14.5" stroke="#777" stroke-width="0.7"/>
<line x1="-15.5" y1="-15.5" x2="-15.5" y2="17" stroke="#999" stroke-width="0.5"/>
<rect x="-9" y="-12" width="17" height="5" rx="1.5" fill="#bbb" stroke="#444" stroke-width="0.7" transform="rotate(-4)"/>
<line x1="-8" y1="-12" x2="7" y2="-13" stroke="#555" stroke-width="0.5"/>
<path d="M-8,-7 L-17,17.5 M8,-7 L17,17.5" fill="none" stroke="#555" stroke-width="0.6"/>
</g>
<path d="M289,242 L296.25,242.45 L306.93,240.59 L296.09,240.42 Z M289,242 L295.56,245.69 L306.22,249.3 L296.22,244.15 Z M289,242 L295.29,247.39 L306.06,253.5 L296.36,245.81 Z M289,242 L292.6,250.08 L300.32,260.82 L294.46,248.97 Z M289,242 L287.76,248.95 L288.85,259.39 L290.12,248.97 Z M289,242 L286.41,249.18 L285.78,260.51 L289.01,249.63 Z M289,242 L283.25,247.53 L277.01,257.66 L285.16,248.99 Z M289,242 L282.11,246.14 L273.61,254.58 L283.58,247.92 Z M289,242 L283.45,242.02 L275.93,245.26 L284.09,244.58 Z M289,242 L281.54,239.32 L269.78,238.57 L281.08,241.93 Z M289,242 L282.66,236.21 L271.64,229.64 L281.46,237.9 Z M289,242 L286.54,235.47 L279.96,227.47 L284.23,236.91 Z M289,242 L288.95,236.31 L286.71,228.13 L287.21,236.6 Z M289,242 L290.13,233.33 L289.16,220.3 L288,233.31 Z M289,242 L293.01,236.97 L296.6,228.09 L291.07,235.91 Z M289,242 L294.47,238.27 L300.65,230.62 L292.86,236.62 Z M289,242 L297.37,240.28 L308.92,234.86 L296.56,238.01 Z" fill="#555" stroke="#222" stroke-width="0.5"/>
<path d="M289,242 L290.84,246.13 L296.63,249.02 L293.27,243.48 Z M289,242 L286.25,245.21 L286.46,251.21 L289.72,246.16 Z M289,242 L285.04,244.2 L282.68,250.24 L287.9,246.39 Z M289,242 L287.22,237.76 L281.42,234.62 L284.71,240.34 Z M289,242 L290.53,237.99 L288.34,232.28 L286.94,238.24 Z M289,242 L293.01,239.99 L295.55,234.1 L290.23,237.69 Z" fill="#111"/>
<rect x="433.5" y="525.5" width="26" height="26" fill="none" stroke="#999" stroke-width="0.7"/>
<line x1="441.5" y1="527.5" x2="447.5" y2="537.5" stroke="#888" stroke-width="0.6"/>
<line x1="445" y1="527.5" x2="451" y2="537.5" stroke="#888" stroke-width="0.6"/>
<line x1="448.5" y1="527.5" x2="454.5" y2="537.5" stroke="#888" stroke-width="0.6"/>
<line x1="452" y1="527.5" x2="458" y2="537.5" stroke="#888" stroke-width="0.6"/>
<line x1="455.5" y1="527.5" x2="461.5" y2="537.5" stroke="#888" stroke-width="0.6"/>
<path d="M439.5,539.5 L447.88,541.09 L460.56,540.28 L447.97,538.53 Z M439.5,539.5 L446.23,544.74 L457.95,549.64 L447.53,542.37 Z M439.5,539.5 L444.84,544.79 L454.77,549.9 L446.38,542.53 Z M439.5,539.5 L442.37,548.1 L448.65,560.13 L443.95,547.4 Z M439.5,539.5 L439.05,546.15 L441.17,555.83 L441.29,545.92 Z M439.5,539.5 L436.93,544.66 L435.31,553.09 L438.71,545.21 Z M439.5,539.5 L433.46,546.41 L427.04,558.49 L435.57,547.79 Z M439.5,539.5 L432.12,544.07 L422.4,552.68 L433.2,545.47 Z M439.5,539.5 L433.33,539.62 L424.38,541.78 L433.57,541.2 Z M439.5,539.5 L433.62,536.73 L424.13,534.81 L433.08,538.51 Z M439.5,539.5 L433.3,533.01 L422.43,525.15 L432.05,534.5 Z M439.5,539.5 L436.82,532.21 L430.17,522.76 L434.71,533.39 Z M439.5,539.5 L437.35,530.49 L431.29,518.07 L435.08,531.36 Z M439.5,539.5 L442.53,530.97 L444.68,517.6 L440.62,530.52 Z M439.5,539.5 L442.87,534.14 L445.89,525.2 L441.25,533.42 Z M439.5,539.5 L444.76,535.07 L450.42,526.56 L442.98,533.58 Z M439.5,539.5 L447.11,536.31 L457.28,529.35 L446.12,534.57 Z" fill="#555" stroke="#222" stroke-width="0.5"/>
<path d="M439.5,539.5 L443.28,542.31 L450.06,542.17 L444.17,538.82 Z M439.5,539.5 L438.19,543.13 L440.68,547.95 L441.76,542.63 Z M439.5,539.5 L435.12,540.63 L431.33,545.87 L437.34,543.47 Z M439.5,539.5 L434.93,537.49 L427.88,538.97 L434.77,541.09 Z M439.5,539.5 L439.03,534.93 L434.38,530.25 L435.88,536.67 Z M439.5,539.5 L442.81,540.14 L446.15,536.91 L441.51,536.79 Z" fill="#111"/>
<rect x="705.8" y="523.4" width="63.3" height="25.6" fill="none" stroke="#999" stroke-width="0.8"/>
<path d="M717.5,537 L723.1,537.9 L731.35,536.27 L722.98,535.52 Z M717.5,537 L723.9,539.62 L734.11,541.09 L724.39,537.64 Z M717.5,537 L722.57,541.52 L731.35,546.61 L723.51,540.17 Z M717.5,537 L719.19,542.07 L723.61,548.68 L720.7,541.28 Z M717.5,537 L717.53,544.87 L719.74,556.42 L719.27,544.67 Z M717.5,537 L714.78,543.75 L714.05,554.53 L717.46,544.28 Z M717.5,537 L712.46,541.13 L707.61,549.49 L714.63,542.86 Z M717.5,537 L710.77,541.3 L702.23,549.62 L712.01,542.8 Z M717.5,537 L712.01,537.62 L704.48,540.91 L712.58,539.51 Z M717.5,537 L712.39,534.34 L703.93,533.1 L711.76,536.55 Z M717.5,537 L712.93,532.53 L704.48,528.17 L711.66,534.4 Z M717.5,537 L714.48,532.62 L708.31,527.67 L713.16,533.92 Z M717.5,537 L717.03,530.47 L713.92,521.21 L715.1,530.9 Z M717.5,537 L719.25,530.6 L719.43,520.71 L717.3,530.37 Z M717.5,537 L722.17,531.2 L727.16,521.26 L720.56,530.21 Z M717.5,537 L723.5,533.53 L730.32,525.82 L721.76,531.53 Z M717.5,537 L723.65,536.55 L731.84,532.55 L722.83,533.89 Z" fill="#555" stroke="#222" stroke-width="0.5"/>
<path d="M717.5,537 L720.54,539.1 L725.52,537.76 L720.88,535.51 Z M717.5,537 L715.48,539.62 L716.93,543.91 L719.07,539.91 Z M717.5,537 L714.35,537.15 L712.38,540.94 L716.55,540 Z M717.5,537 L715.14,533.51 L709.32,532.15 L713.31,536.61 Z M717.5,537 L719.04,532.9 L716.85,527.04 L715.44,533.13 Z M717.5,537 L721.37,535.62 L723.95,530.41 L718.79,533.11 Z" fill="#111"/>
<path d="M751.3,537 L758.24,538.26 L768.6,536.75 L758.2,535.55 Z M751.3,537 L757.21,540.45 L767.09,542.93 L758.02,538.29 Z M751.3,537 L756,542 L764.81,547.15 L757.41,540.12 Z M751.3,537 L752.34,542.34 L756.19,549.46 L754.17,541.63 Z M751.3,537 L751.77,544.84 L755.44,555.95 L754.15,544.32 Z M751.3,537 L748.77,545.07 L748.4,557.65 L751.5,545.45 Z M751.3,537 L746.07,541.9 L739.95,550.67 L747.45,543.04 Z M751.3,537 L745.55,540.75 L738.27,547.98 L746.63,542.03 Z M751.3,537 L745.45,537.82 L737.23,541.01 L745.9,539.39 Z M751.3,537 L745.1,534.59 L735.25,534.18 L744.65,537.16 Z M751.3,537 L745.79,532.25 L736.07,527.45 L744.62,534.11 Z M751.3,537 L748.4,531.02 L742.04,523.41 L746.8,532.11 Z M751.3,537 L751.52,528.52 L748.63,516.21 L748.94,528.85 Z M751.3,537 L753.17,531.12 L753.65,521.93 L751.31,530.83 Z M751.3,537 L754.51,532.63 L756.42,524.84 L752.19,531.65 Z M751.3,537 L757.68,532.26 L765.46,523.29 L756.25,530.78 Z M751.3,537 L759.16,535.96 L770.49,532.46 L758.79,534.41 Z" fill="#555" stroke="#222" stroke-width="0.5"/>
<path d="M751.3,537 L754.99,539.45 L761.28,538.69 L755.59,535.9 Z M751.3,537 L750.13,541.39 L752.83,547.3 L753.69,540.86 Z M751.3,537 L748.13,537.42 L746.37,541.4 L750.53,540.1 Z M751.3,537 L748.82,533.58 L742.92,532.38 L747.08,536.73 Z M751.3,537 L752.21,533.91 L749.28,530.65 L748.78,535 Z M751.3,537 L755.51,535.36 L758.65,529.71 L752.97,532.81 Z" fill="#111"/>
<text transform="translate(341,236.9) scale(0.67,1)" font-size="12.79" textLength="73.51" lengthAdjust="spacing" fill="#000" stroke="#000" stroke-width="0.75">ARMARIO</text>
<text transform="translate(272.5,308.4) scale(0.67,1)" font-size="11.92" textLength="55.97" lengthAdjust="spacing" fill="#000" stroke="#000" stroke-width="0.75">ACCESO</text>
<text transform="translate(340.9,308.4) scale(0.67,1)" font-size="11.92" textLength="77.61" lengthAdjust="spacing" fill="#000" stroke="#000" stroke-width="0.75">RECIBIDOR</text>
<text transform="translate(422.25,293.1) scale(0.67,1)" font-size="12.65" textLength="38.58" lengthAdjust="spacing" fill="#000" stroke="#000" stroke-width="0.75">ASEO</text>
<text transform="translate(490.8,283.7) rotate(-90)" x="0" y="0" font-size="12.79" textLength="41.3" lengthAdjust="spacingAndGlyphs" fill="#000" stroke="#000" stroke-width="0.64">GALERIA</text>
<text transform="translate(604.5,279.6) scale(0.67,1)" font-size="11.77" textLength="57.61" lengthAdjust="spacing" fill="#000" stroke="#000" stroke-width="0.75">BAÑO 2</text>
<text transform="translate(557.8,337.9) scale(0.67,1)" font-size="11.92" textLength="59.55" lengthAdjust="spacing" fill="#000" stroke="#000" stroke-width="0.75">PASILLO</text>
<text transform="translate(836.7,254.2) rotate(-90)" x="0" y="0" font-size="14.53" textLength="50" lengthAdjust="spacingAndGlyphs" fill="#000" stroke="#000" stroke-width="0.73">VESTIDOR</text>
<text transform="translate(894.2,237.5) scale(0.67,1)" font-size="13.37" textLength="57.16" lengthAdjust="spacing" fill="#000" stroke="#000" stroke-width="0.75">BAÑO 1</text>
<text transform="translate(434.4,385.8) scale(0.67,1)" font-size="12.35" textLength="113.73" lengthAdjust="spacing" fill="#000" stroke="#000" stroke-width="0.75">DORMITORIO 3</text>
<text transform="translate(670.6,385.8) scale(0.67,1)" font-size="12.21" textLength="113.28" lengthAdjust="spacing" fill="#000" stroke="#000" stroke-width="0.75">DORMITORIO 2</text>
<text transform="translate(879.3,472.9) scale(0.67,1)" font-size="13.08" textLength="111.79" lengthAdjust="spacing" fill="#000" stroke="#000" stroke-width="0.75">DORMITORIO 1</text>
<text transform="translate(272.4,444.2) scale(0.67,1)" font-size="12.35" textLength="57.61" lengthAdjust="spacing" fill="#000" stroke="#000" stroke-width="0.75">COCINA</text>
<text transform="translate(248.1,667.2) scale(0.67,1)" font-size="12.5" textLength="143.43" lengthAdjust="spacing" fill="#000" stroke="#000" stroke-width="0.75">SALON - COMEDOR</text>
<text transform="translate(461.4,581.9) scale(0.67,1)" font-size="11.92" textLength="67.46" lengthAdjust="spacing" fill="#000" stroke="#000" stroke-width="0.75">TERRAZA</text>
<text transform="translate(596.4,536.7) scale(0.67,1)" font-size="12.65" textLength="128.36" lengthAdjust="spacing" fill="#000" stroke="#000" stroke-width="0.75">PASEO CUBIERTO</text>
<line x1="1346.6" y1="40.4" x2="1808.3" y2="40.4" stroke="#9a9a9a" stroke-width="1.3"/>
<line x1="1346.6" y1="88.7" x2="1808.3" y2="88.7" stroke="#9a9a9a" stroke-width="1.3"/>
<line x1="1346.6" y1="117.2" x2="1808.3" y2="117.2" stroke="#9a9a9a" stroke-width="1.3"/>
<line x1="1346.6" y1="40.4" x2="1346.6" y2="117.2" stroke="#9a9a9a" stroke-width="1.3"/>
<line x1="1808.3" y1="40.4" x2="1808.3" y2="117.2" stroke="#9a9a9a" stroke-width="1.3"/>
<line x1="1460.1" y1="88.7" x2="1460.1" y2="117.2" stroke="#9a9a9a" stroke-width="1.3"/>
<line x1="1697.4" y1="88.7" x2="1697.4" y2="117.2" stroke="#9a9a9a" stroke-width="1.3"/>
<text transform="translate(1499.2,72.8) scale(0.77,1)" font-size="22.97" textLength="203.64" lengthAdjust="spacing" fill="#000" stroke="#000" stroke-width="1.15">Superficies Utiles</text>
<text transform="translate(1351.9,109.4) scale(0.77,1)" font-size="18.17" textLength="105.45" lengthAdjust="spacing" fill="#000" stroke="#000" stroke-width="0.91">Edificacion</text>
<text transform="translate(1465.8,109.5) scale(0.77,1)" font-size="18.17" textLength="79.09" lengthAdjust="spacing" fill="#000" stroke="#000" stroke-width="0.91">Nombre</text>
<text transform="translate(1734.3,109.6) scale(0.77,1)" font-size="17.73" textLength="47.4" lengthAdjust="spacing" fill="#000" stroke="#000" stroke-width="0.89">Área</text>
<line x1="1346.6" y1="151.3" x2="1808.3" y2="151.3" stroke="#9a9a9a" stroke-width="1.3"/>
<line x1="1346.6" y1="213.6" x2="1808.3" y2="213.6" stroke="#9a9a9a" stroke-width="1.3"/>
<line x1="1346.6" y1="151.3" x2="1346.6" y2="213.6" stroke="#9a9a9a" stroke-width="1.3"/>
<line x1="1460.1" y1="151.3" x2="1460.1" y2="213.6" stroke="#9a9a9a" stroke-width="1.3"/>
<line x1="1697.4" y1="151.3" x2="1697.4" y2="213.6" stroke="#9a9a9a" stroke-width="1.3"/>
<line x1="1808.3" y1="151.3" x2="1808.3" y2="213.6" stroke="#9a9a9a" stroke-width="1.3"/>
<text transform="translate(1352.75,175.6) scale(0.77,1)" font-size="21.8" textLength="123.83" lengthAdjust="spacing" fill="#000" stroke="#000" stroke-width="1.09">Edificacion</text>
<text transform="translate(1352,204.4) scale(0.77,1)" font-size="21.8" textLength="92.21" lengthAdjust="spacing" fill="#000" stroke="#000" stroke-width="1.09">auxiliar</text>
<text transform="translate(1464.6,172.2) scale(0.77,1)" font-size="18.6" textLength="82.86" lengthAdjust="spacing" fill="#000" stroke="#000" stroke-width="0.93">Trastero</text>
<text transform="translate(1721,172.6) scale(0.77,1)" font-size="19.19" textLength="80.52" lengthAdjust="spacing" fill="#000" stroke="#000" stroke-width="0.96">6.01 m²</text>
<text transform="translate(1352.75,238.1) scale(0.77,1)" font-size="22.67" textLength="225.91" lengthAdjust="spacing" fill="#000" stroke="#000" stroke-width="1.13">Edificacion auxiliar</text>
<text transform="translate(1717,238.1) scale(0.77,1)" font-size="22.09" textLength="93.51" lengthAdjust="spacing" fill="#000" stroke="#000" stroke-width="1.1">6.01 m²</text>
<line x1="1346.6" y1="248" x2="1808.3" y2="248" stroke="#9a9a9a" stroke-width="1.3"/>
<line x1="1346.6" y1="281.66" x2="1808.3" y2="281.66" stroke="#9a9a9a" stroke-width="1.3"/>
<line x1="1346.6" y1="315.32" x2="1808.3" y2="315.32" stroke="#9a9a9a" stroke-width="1.3"/>
<line x1="1346.6" y1="348.98" x2="1808.3" y2="348.98" stroke="#9a9a9a" stroke-width="1.3"/>
<line x1="1346.6" y1="382.64" x2="1808.3" y2="382.64" stroke="#9a9a9a" stroke-width="1.3"/>
<line x1="1346.6" y1="416.3" x2="1808.3" y2="416.3" stroke="#9a9a9a" stroke-width="1.3"/>
<line x1="1346.6" y1="449.96" x2="1808.3" y2="449.96" stroke="#9a9a9a" stroke-width="1.3"/>
<line x1="1346.6" y1="483.62" x2="1808.3" y2="483.62" stroke="#9a9a9a" stroke-width="1.3"/>
<line x1="1346.6" y1="517.28" x2="1808.3" y2="517.28" stroke="#9a9a9a" stroke-width="1.3"/>
<line x1="1346.6" y1="550.94" x2="1808.3" y2="550.94" stroke="#9a9a9a" stroke-width="1.3"/>
<line x1="1346.6" y1="584.6" x2="1808.3" y2="584.6" stroke="#9a9a9a" stroke-width="1.3"/>
<line x1="1346.6" y1="618.26" x2="1808.3" y2="618.26" stroke="#9a9a9a" stroke-width="1.3"/>
<line x1="1346.6" y1="651.92" x2="1808.3" y2="651.92" stroke="#9a9a9a" stroke-width="1.3"/>
<line x1="1346.6" y1="685.58" x2="1808.3" y2="685.58" stroke="#9a9a9a" stroke-width="1.3"/>
<line x1="1346.6" y1="719.24" x2="1808.3" y2="719.24" stroke="#9a9a9a" stroke-width="1.3"/>
<line x1="1346.6" y1="752.9" x2="1808.3" y2="752.9" stroke="#9a9a9a" stroke-width="1.3"/>
<line x1="1346.6" y1="786.56" x2="1808.3" y2="786.56" stroke="#9a9a9a" stroke-width="1.3"/>
<line x1="1346.6" y1="248" x2="1346.6" y2="786.56" stroke="#9a9a9a" stroke-width="1.3"/>
<line x1="1460.1" y1="248" x2="1460.1" y2="786.56" stroke="#9a9a9a" stroke-width="1.3"/>
<line x1="1697.4" y1="248" x2="1697.4" y2="786.56" stroke="#9a9a9a" stroke-width="1.3"/>
<line x1="1808.3" y1="248" x2="1808.3" y2="786.56" stroke="#9a9a9a" stroke-width="1.3"/>
<text transform="translate(1351.9,272.4) scale(0.77,1)" font-size="23.11" textLength="103.51" lengthAdjust="spacing" fill="#000" stroke="#000" stroke-width="1.16">Vivienda</text>
<text transform="translate(1464.8,269) scale(0.77,1)" font-size="19.19" textLength="128.96" lengthAdjust="spacing" fill="#000" stroke="#000" stroke-width="0.96">Dormitorio 3</text>
<text transform="translate(1716.4,269.3) scale(0.77,1)" font-size="19.77" textLength="93.77" lengthAdjust="spacing" fill="#000" stroke="#000" stroke-width="0.99">12.00 m²</text>
<text transform="translate(1351.9,306.06) scale(0.77,1)" font-size="23.11" textLength="103.51" lengthAdjust="spacing" fill="#000" stroke="#000" stroke-width="1.16">Vivienda</text>
<text transform="translate(1464.8,302.66) scale(0.77,1)" font-size="19.19" textLength="128.96" lengthAdjust="spacing" fill="#000" stroke="#000" stroke-width="0.96">Dormitorio 2</text>
<text transform="translate(1716.4,302.96) scale(0.77,1)" font-size="19.77" textLength="93.77" lengthAdjust="spacing" fill="#000" stroke="#000" stroke-width="0.99">12.00 m²</text>
<text transform="translate(1351.9,339.72) scale(0.77,1)" font-size="23.11" textLength="103.51" lengthAdjust="spacing" fill="#000" stroke="#000" stroke-width="1.16">Vivienda</text>
<text transform="translate(1464.8,336.32) scale(0.77,1)" font-size="19.19" textLength="127.01" lengthAdjust="spacing" fill="#000" stroke="#000" stroke-width="0.96">Dormitorio 1</text>
<text transform="translate(1716.4,336.62) scale(0.77,1)" font-size="19.77" textLength="93.77" lengthAdjust="spacing" fill="#000" stroke="#000" stroke-width="0.99">17.13 m²</text>
<text transform="translate(1351.9,373.38) scale(0.77,1)" font-size="23.11" textLength="103.51" lengthAdjust="spacing" fill="#000" stroke="#000" stroke-width="1.16">Vivienda</text>
<text transform="translate(1464.8,369.98) scale(0.77,1)" font-size="19.19" textLength="85.45" lengthAdjust="spacing" fill="#000" stroke="#000" stroke-width="0.96">Vestidor</text>
<text transform="translate(1721.2,370.28) scale(0.77,1)" font-size="19.77" textLength="81.3" lengthAdjust="spacing" fill="#000" stroke="#000" stroke-width="0.99">7.55 m²</text>
<text transform="translate(1351.9,407.04) scale(0.77,1)" font-size="23.11" textLength="103.51" lengthAdjust="spacing" fill="#000" stroke="#000" stroke-width="1.16">Vivienda</text>
<text transform="translate(1464.8,403.64) scale(0.77,1)" font-size="19.19" textLength="67.86" lengthAdjust="spacing" fill="#000" stroke="#000" stroke-width="0.96">Baño 1</text>
<text transform="translate(1721.2,403.94) scale(0.77,1)" font-size="19.77" textLength="81.3" lengthAdjust="spacing" fill="#000" stroke="#000" stroke-width="0.99">6.38 m²</text>
<text transform="translate(1351.9,440.7) scale(0.77,1)" font-size="23.11" textLength="103.51" lengthAdjust="spacing" fill="#000" stroke="#000" stroke-width="1.16">Vivienda</text>
<text transform="translate(1464.8,437.3) scale(0.77,1)" font-size="19.19" textLength="70.65" lengthAdjust="spacing" fill="#000" stroke="#000" stroke-width="0.96">Baño 2</text>
<text transform="translate(1721.2,437.6) scale(0.77,1)" font-size="19.77" textLength="81.3" lengthAdjust="spacing" fill="#000" stroke="#000" stroke-width="0.99">5.51 m²</text>
<text transform="translate(1351.9,474.36) scale(0.77,1)" font-size="23.11" textLength="103.51" lengthAdjust="spacing" fill="#000" stroke="#000" stroke-width="1.16">Vivienda</text>
<text transform="translate(1464.8,470.96) scale(0.77,1)" font-size="19.19" textLength="74.94" lengthAdjust="spacing" fill="#000" stroke="#000" stroke-width="0.96">Galeria</text>
<text transform="translate(1721.2,471.26) scale(0.77,1)" font-size="19.77" textLength="81.3" lengthAdjust="spacing" fill="#000" stroke="#000" stroke-width="0.99">3.04 m²</text>
<text transform="translate(1351.9,508.02) scale(0.77,1)" font-size="23.11" textLength="103.51" lengthAdjust="spacing" fill="#000" stroke="#000" stroke-width="1.16">Vivienda</text>
<text transform="translate(1464.8,504.62) scale(0.77,1)" font-size="19.19" textLength="47.92" lengthAdjust="spacing" fill="#000" stroke="#000" stroke-width="0.96">Aseo</text>
<text transform="translate(1721.2,504.92) scale(0.77,1)" font-size="19.77" textLength="81.3" lengthAdjust="spacing" fill="#000" stroke="#000" stroke-width="0.99">2.28 m²</text>
<text transform="translate(1351.9,541.68) scale(0.77,1)" font-size="23.11" textLength="103.51" lengthAdjust="spacing" fill="#000" stroke="#000" stroke-width="1.16">Vivienda</text>
<text transform="translate(1464.8,538.28) scale(0.77,1)" font-size="19.19" textLength="70.13" lengthAdjust="spacing" fill="#000" stroke="#000" stroke-width="0.96">Pasillo</text>
<text transform="translate(1721.2,538.58) scale(0.77,1)" font-size="19.77" textLength="81.3" lengthAdjust="spacing" fill="#000" stroke="#000" stroke-width="0.99">8.10 m²</text>
<text transform="translate(1351.9,575.34) scale(0.77,1)" font-size="23.11" textLength="103.51" lengthAdjust="spacing" fill="#000" stroke="#000" stroke-width="1.16">Vivienda</text>
<text transform="translate(1464.8,571.94) scale(0.77,1)" font-size="19.19" textLength="83.51" lengthAdjust="spacing" fill="#000" stroke="#000" stroke-width="0.96">Armario</text>
<text transform="translate(1721.2,572.24) scale(0.77,1)" font-size="19.77" textLength="81.3" lengthAdjust="spacing" fill="#000" stroke="#000" stroke-width="0.99">0.90 m²</text>
<text transform="translate(1351.9,609) scale(0.77,1)" font-size="23.11" textLength="103.51" lengthAdjust="spacing" fill="#000" stroke="#000" stroke-width="1.16">Vivienda</text>
<text transform="translate(1464.8,605.6) scale(0.77,1)" font-size="19.19" textLength="94.81" lengthAdjust="spacing" fill="#000" stroke="#000" stroke-width="0.96">Recibidor</text>
<text transform="translate(1721.2,605.9) scale(0.77,1)" font-size="19.77" textLength="81.3" lengthAdjust="spacing" fill="#000" stroke="#000" stroke-width="0.99">4.27 m²</text>
<text transform="translate(1351.9,642.66) scale(0.77,1)" font-size="23.11" textLength="103.51" lengthAdjust="spacing" fill="#000" stroke="#000" stroke-width="1.16">Vivienda</text>
<text transform="translate(1464.8,639.26) scale(0.77,1)" font-size="19.19" textLength="65.06" lengthAdjust="spacing" fill="#000" stroke="#000" stroke-width="0.96">Cocina</text>
<text transform="translate(1716.4,639.56) scale(0.77,1)" font-size="19.77" textLength="93.77" lengthAdjust="spacing" fill="#000" stroke="#000" stroke-width="0.99">11.08 m²</text>
<text transform="translate(1351.9,676.32) scale(0.77,1)" font-size="23.11" textLength="103.51" lengthAdjust="spacing" fill="#000" stroke="#000" stroke-width="1.16">Vivienda</text>
<text transform="translate(1464.8,672.92) scale(0.77,1)" font-size="19.19" textLength="166.75" lengthAdjust="spacing" fill="#000" stroke="#000" stroke-width="0.96">Salon - Comedor</text>
<text transform="translate(1716.4,673.22) scale(0.77,1)" font-size="19.77" textLength="93.77" lengthAdjust="spacing" fill="#000" stroke="#000" stroke-width="0.99">28.69 m²</text>
<text transform="translate(1351.9,709.98) scale(0.77,1)" font-size="23.11" textLength="103.51" lengthAdjust="spacing" fill="#000" stroke="#000" stroke-width="1.16">Vivienda</text>
<text transform="translate(1464.8,706.58) scale(0.77,1)" font-size="19.19" textLength="165.84" lengthAdjust="spacing" fill="#000" stroke="#000" stroke-width="0.96">Terraza cubierta</text>
<text transform="translate(1716.4,706.88) scale(0.77,1)" font-size="19.77" textLength="93.77" lengthAdjust="spacing" fill="#000" stroke="#000" stroke-width="0.99">21.58 m²</text>
<text transform="translate(1351.9,743.64) scale(0.77,1)" font-size="23.11" textLength="103.51" lengthAdjust="spacing" fill="#000" stroke="#000" stroke-width="1.16">Vivienda</text>
<text transform="translate(1464.8,740.24) scale(0.77,1)" font-size="19.19" textLength="154.55" lengthAdjust="spacing" fill="#000" stroke="#000" stroke-width="0.96">Acceso cubierto</text>
<text transform="translate(1721.2,740.54) scale(0.77,1)" font-size="19.77" textLength="81.3" lengthAdjust="spacing" fill="#000" stroke="#000" stroke-width="0.99">3.90 m²</text>
<text transform="translate(1351.9,777.3) scale(0.77,1)" font-size="23.11" textLength="103.51" lengthAdjust="spacing" fill="#000" stroke="#000" stroke-width="1.16">Vivienda</text>
<text transform="translate(1464.8,773.9) scale(0.77,1)" font-size="19.19" textLength="149.74" lengthAdjust="spacing" fill="#000" stroke="#000" stroke-width="0.96">Paseo cubierto</text>
<text transform="translate(1721.2,774.2) scale(0.77,1)" font-size="19.77" textLength="81.3" lengthAdjust="spacing" fill="#000" stroke="#000" stroke-width="0.99">9.48 m²</text>
<text transform="translate(1351.9,811.2) scale(0.77,1)" font-size="22.53" textLength="103.51" lengthAdjust="spacing" fill="#000" stroke="#000" stroke-width="1.13">Vivienda</text>
<text transform="translate(1705.5,811.2) scale(0.77,1)" font-size="22.53" textLength="123.38" lengthAdjust="spacing" fill="#000" stroke="#000" stroke-width="1.13">153.89 m²</text>
<text transform="translate(1352,845.5) scale(0.67,1)" font-size="23.26" textLength="220.15" lengthAdjust="spacing" fill="#000" stroke="#000" stroke-width="1.16">TOTAL SUP. UTIL</text>
<text transform="translate(1705.5,845.5) scale(0.77,1)" font-size="22.53" textLength="123.38" lengthAdjust="spacing" fill="#000" stroke="#000" stroke-width="1.13">159.90 m²</text>
<line x1="1346.5" y1="912" x2="1698.5" y2="912" stroke="#9a9a9a" stroke-width="1.3"/>
<line x1="1346.5" y1="960.3" x2="1698.5" y2="960.3" stroke="#9a9a9a" stroke-width="1.3"/>
<line x1="1346.5" y1="989" x2="1698.5" y2="989" stroke="#9a9a9a" stroke-width="1.3"/>
<line x1="1346.5" y1="912" x2="1346.5" y2="989" stroke="#9a9a9a" stroke-width="1.3"/>
<line x1="1698.5" y1="912" x2="1698.5" y2="989" stroke="#9a9a9a" stroke-width="1.3"/>
<line x1="1585.4" y1="960.3" x2="1585.4" y2="989" stroke="#9a9a9a" stroke-width="1.3"/>
<text transform="translate(1426.1,944.5) scale(0.77,1)" font-size="22.53" textLength="250.52" lengthAdjust="spacing" fill="#000" stroke="#000" stroke-width="1.13">Superficie Construida</text>
<text transform="translate(1351.3,981) scale(0.77,1)" font-size="18.17" textLength="80.52" lengthAdjust="spacing" fill="#000" stroke="#000" stroke-width="0.91">Nombre</text>
<text transform="translate(1623.5,981) scale(0.77,1)" font-size="18.17" textLength="46.88" lengthAdjust="spacing" fill="#000" stroke="#000" stroke-width="0.91">Área</text>
<line x1="1346.5" y1="1022.8" x2="1698.5" y2="1022.8" stroke="#9a9a9a" stroke-width="1.3"/>
<line x1="1346.5" y1="1051.6" x2="1698.5" y2="1051.6" stroke="#9a9a9a" stroke-width="1.3"/>
<line x1="1346.5" y1="1080.4" x2="1698.5" y2="1080.4" stroke="#9a9a9a" stroke-width="1.3"/>
<line x1="1346.5" y1="1109.2" x2="1698.5" y2="1109.2" stroke="#9a9a9a" stroke-width="1.3"/>
<line x1="1346.5" y1="1138" x2="1698.5" y2="1138" stroke="#9a9a9a" stroke-width="1.3"/>
<line x1="1346.5" y1="1166.8" x2="1698.5" y2="1166.8" stroke="#9a9a9a" stroke-width="1.3"/>
<line x1="1346.5" y1="1022.8" x2="1346.5" y2="1166.8" stroke="#9a9a9a" stroke-width="1.3"/>
<line x1="1585.4" y1="1022.8" x2="1585.4" y2="1166.8" stroke="#9a9a9a" stroke-width="1.3"/>
<line x1="1698.5" y1="1022.8" x2="1698.5" y2="1166.8" stroke="#9a9a9a" stroke-width="1.3"/>
<text transform="translate(1351.6,1044) scale(0.77,1)" font-size="18.53" textLength="88.7" lengthAdjust="spacing" fill="#000" stroke="#000" stroke-width="0.93">Vivienda</text>
<text transform="translate(1601,1044) scale(0.77,1)" font-size="18.9" textLength="106.36" lengthAdjust="spacing" fill="#000" stroke="#000" stroke-width="0.94">143.57 m²</text>
<text transform="translate(1351.6,1072.8) scale(0.77,1)" font-size="18.53" textLength="157.53" lengthAdjust="spacing" fill="#000" stroke="#000" stroke-width="0.93">Acceso Cubierto</text>
<text transform="translate(1610.9,1072.8) scale(0.77,1)" font-size="18.9" textLength="80.65" lengthAdjust="spacing" fill="#000" stroke="#000" stroke-width="0.94">4.26 m²</text>
<text transform="translate(1351.6,1101.6) scale(0.77,1)" font-size="18.53" textLength="151.95" lengthAdjust="spacing" fill="#000" stroke="#000" stroke-width="0.93">Paseo Cubierto</text>
<text transform="translate(1610.9,1101.6) scale(0.77,1)" font-size="18.9" textLength="80.65" lengthAdjust="spacing" fill="#000" stroke="#000" stroke-width="0.94">9.80 m²</text>
<text transform="translate(1351.6,1130.4) scale(0.77,1)" font-size="18.53" textLength="78.18" lengthAdjust="spacing" fill="#000" stroke="#000" stroke-width="0.93">Pergola</text>
<text transform="translate(1606,1130.4) scale(0.77,1)" font-size="18.9" textLength="93.12" lengthAdjust="spacing" fill="#000" stroke="#000" stroke-width="0.94">22.52 m²</text>
<text transform="translate(1351.6,1159.2) scale(0.77,1)" font-size="18.53" textLength="83.05" lengthAdjust="spacing" fill="#000" stroke="#000" stroke-width="0.93">Trastero</text>
<text transform="translate(1610.9,1159.2) scale(0.77,1)" font-size="18.9" textLength="80.65" lengthAdjust="spacing" fill="#000" stroke="#000" stroke-width="0.94">8.17 m²</text>
<text transform="translate(1352.1,1191.6) scale(0.67,1)" font-size="23.26" textLength="340.15" lengthAdjust="spacing" fill="#000" stroke="#000" stroke-width="1.16">TOTAL SUP. CONSTRUIDA</text>
<text transform="translate(1594.4,1191.6) scale(0.77,1)" font-size="23.26" textLength="124.42" lengthAdjust="spacing" fill="#000" stroke="#000" stroke-width="1.16">188.32 m²</text>
<text transform="translate(1346.5,1265) scale(0.67,1)" font-size="23.55" textLength="457.46" lengthAdjust="spacing" fill="#000" stroke="#000" stroke-width="1.18">PAVIMENTO EXTERIOR 131.67 m²</text>
</svg>
</body></html>
